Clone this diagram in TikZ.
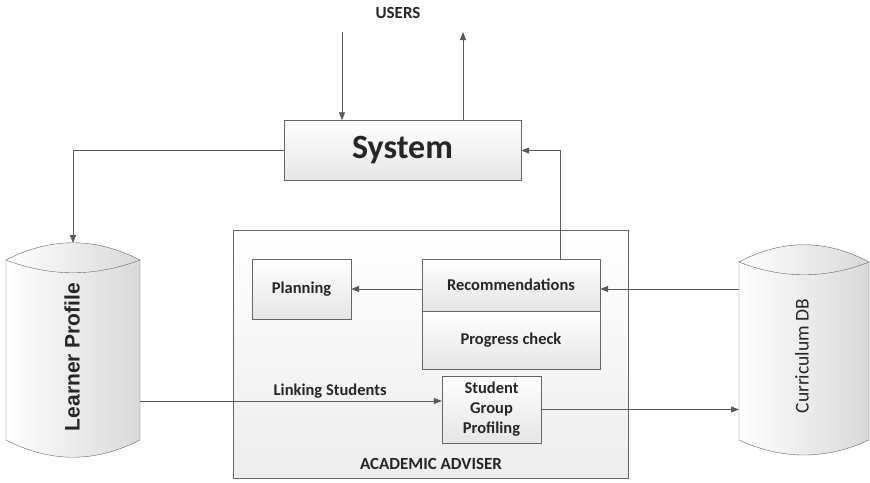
\documentclass[tikz,border=0pt]{standalone}
\usepackage{fontspec}
\setmainfont{Carlito}
\newfontfamily\arialfont{Liberation Sans}
\usetikzlibrary{arrows.meta, positioning}

\begin{document}
\begin{tikzpicture}[x=1pt, y=-1pt,
        every node/.style={align=center, text=black!85,
                           font=\bfseries\fontsize{16.5}{20}\selectfont},
        box/.style={draw=black!60, top color=white, bottom color=black!10,
                    inner sep=0pt},
        db/.style={draw=black!60, left color=white, right color=black!15},
        arr/.style={-{Triangle[length=8pt, width=6pt]}, draw=black!65,
                    line width=0.8pt}
    ]
        \useasboundingbox (0,0) rectangle (870,482);
        \clip (0,0) rectangle (870,482);

        % adviser frame goes first, everything else sits on it
        \node[box, bottom color=black!7, minimum width=395pt, minimum height=248pt] (adv) at (430.5,354) {};
        \node (advlbl) at (431,464) {\fontsize{17}{20}\selectfont ACADEMIC ADVISER};

        \node (users) at (398,13) {\fontsize{17}{20}\selectfont USERS};
        \node[box, minimum width=237pt, minimum height=60pt] (sys) at (402.5,150.5) {\fontsize{34}{38}\selectfont System};

        \node[box, minimum width=99pt, minimum height=60pt] (plan) at (301.5,289) {Planning};
        \node[box, minimum width=178pt, minimum height=52pt] (rec) at (511,285) {Recommendations};
        \node[box, minimum width=178pt, minimum height=58pt, anchor=north] (prog) at (rec.south) {Progress check};
        \node[box, minimum width=99pt, minimum height=67pt] (sgp) at (491.5,409.5) {Student\\Group\\Profiling};

        % the two stores, drawn as drums
        \draw[db] (6,260) .. controls (51,237) and (95,237) .. (140,260) -- (140,440)
            .. controls (95,463) and (51,463) .. (6,440) -- cycle;
        \draw[draw=black!60] (6,260) .. controls (51,277) and (95,277) .. (140,260);
        \coordinate (lptop) at (73,243);
        \coordinate (lpright) at (140,350);
        \node[rotate=90] (lptxt) at (72,357) {\arialfont\bfseries\fontsize{21}{24}\selectfont Learner Profile};

        \draw[db] (739,262) .. controls (782,239) and (826,239) .. (869,262) -- (869,440)
            .. controls (826,460) and (782,460) .. (739,440) -- cycle;
        \draw[draw=black!60] (739,262) .. controls (782,279) and (826,279) .. (869,262);
        \coordinate (cdbleft) at (739,350);
        \node[rotate=90, font=\mdseries\fontsize{19.5}{22}\selectfont] (cdbtxt) at (802,356) {Curriculum DB};

        % users in and out
        \coordinate (uin) at (342,32);
        \coordinate (uout) at (463,32);
        \draw[arr] (uin) -- (uin |- sys.north);
        \draw[arr] (uout |- sys.north) -- (uout);

        \draw[arr] (sys.west) -| (lptop);
        \draw[arr] ([xshift=49pt]rec.north) |- (sys.east);
        \draw[arr] (rec.west |- plan.east) -- (plan.east);
        \draw[arr] (cdbleft |- plan.east) -- (rec.east |- plan.east);

        \coordinate (lin) at ([yshift=8.5pt]sgp.west);
        \draw[arr] (lpright |- lin) -- node[above, pos=0.63, yshift=-1pt] {Linking Students} (lin);
        \draw[arr] (sgp.east) -- (cdbleft |- sgp.east);
\end{tikzpicture}
\end{document}
